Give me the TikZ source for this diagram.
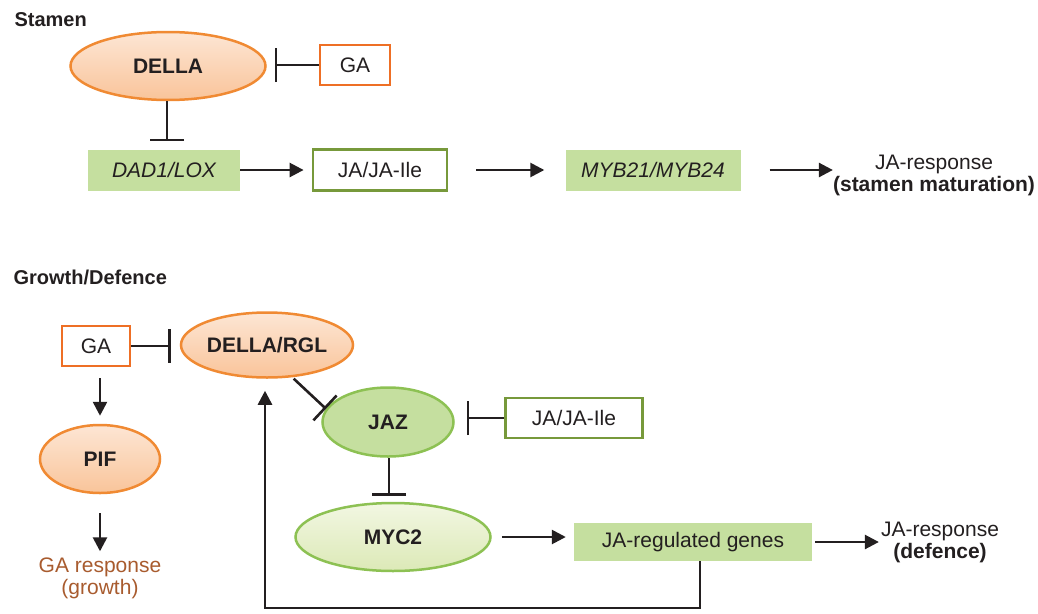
\documentclass[tikz,border=0pt]{standalone}
\usepackage{fontspec}
\setmainfont{Liberation Sans}
\usetikzlibrary{shapes.geometric,arrows.meta,shadings}
\definecolor{orangeline}{HTML}{F08A33}
\definecolor{orangebox}{HTML}{EE6F25}
\definecolor{peachtop}{HTML}{FDE6D4}
\definecolor{peachbot}{HTML}{F9C49A}
\definecolor{leaf}{HTML}{C5DF9F}
\definecolor{leafline}{HTML}{8DC153}
\definecolor{olive}{HTML}{77993B}
\definecolor{mintop}{HTML}{F2F7E2}
\definecolor{minbot}{HTML}{DCE9B7}
\definecolor{rust}{HTML}{A85B2E}
\definecolor{ink}{HTML}{231F20}
\begin{document}
\begin{tikzpicture}[x=1pt, y=-1pt, font=\fontsize{21}{25}\selectfont, text=ink,
	oval/.style={ellipse, line width=2.5pt, inner sep=0pt, font=\fontsize{21}{25}\selectfont\bfseries},
	della/.style={oval, draw=orangeline, top color=peachtop, bottom color=peachbot},
	box/.style={rectangle, inner sep=0pt},
	gabox/.style={box, draw=orangebox, line width=2.8pt, fill=white},
	jabox/.style={box, draw=olive, line width=2.8pt, fill=white},
	gene/.style={box, fill=leaf, font=\fontsize{21}{25}\selectfont\itshape},
	act/.style={draw=ink, line width=2.6pt, -{Triangle[length=14pt,width=14pt]}},
	inh/.style={draw=ink, line width=2.6pt, -{Bar[width=34pt]}}]
		\useasboundingbox (0,0) rectangle (1038,613);
		% Stamen
		\node[anchor=base west, font=\fontsize{20}{24}\selectfont\bfseries] (stamen) at (11,26) {Stamen};
		\node[della, minimum width=195pt, minimum height=68pt] (DELLA) at (168,66) {DELLA};
		\node[gabox, minimum width=70pt, minimum height=40pt] (GA1) at (355,65) {GA};
		\node[gene, minimum width=152pt, minimum height=41pt] (DAD) at (164,170) {DAD1/LOX};
		\node[jabox, minimum width=134pt, minimum height=41pt] (JA1) at (380,170) {JA/JA-Ile};
		\node[gene, minimum width=175pt, minimum height=41pt] (MYB) at (653,170) {MYB21/MYB24};
		\node[align=center, inner sep=0pt] (resp1) at (934,175) {JA-response\\[-3pt]\textbf{(stamen maturation)}};
		% Growth/Defence
		\node[anchor=base west, font=\fontsize{20}{24}\selectfont\bfseries] (growth) at (10,284) {Growth/Defence};
		\node[gabox, minimum width=68pt, minimum height=40pt] (GA2) at (96,346) {GA};
		\node[della, minimum width=172pt, minimum height=65pt] (DR) at (267,345) {DELLA/RGL};
		\node[della, minimum width=120pt, minimum height=68pt] (PIF) at (100,459) {PIF};
		\node[align=center, inner sep=0pt, text=rust] (garesp) at (100,578) {GA response\\[-3pt](growth)};
		\node[oval, draw=leafline, fill=leaf, minimum width=131pt, minimum height=69pt] (JAZ) at (388,422) {JAZ};
		\node[jabox, minimum width=137pt, minimum height=40pt] (JA2) at (574,418) {JA/JA-Ile};
		\node[oval, draw=leafline, top color=mintop, bottom color=minbot, minimum width=195pt, minimum height=68pt] (MYC) at (393,537) {MYC2};
		\node[box, fill=leaf, minimum width=238pt, minimum height=38pt] (genes) at (693,542) {JA-regulated genes};
		\node[align=center, inner sep=0pt] (resp2) at (940,542) {JA-response\\[-3pt]\textbf{(defence)}};
		\coordinate (loop) at (265,608);
		% Arrows
		\draw[inh, shorten >=8pt] (GA1) -- (GA1 -| DELLA.east);
		\draw[inh, shorten >=8pt] (DELLA.south -| 167,0) -- (DAD.north -| 167,0);
		\draw[act, shorten >=8pt] (DAD) -- (JA1);
		\draw[act, shorten <=28pt, shorten >=21pt] (JA1) -- (MYB);
		\draw[act, shorten <=29pt] (MYB.east) -- (MYB.east -| resp1.west);
		\draw[inh, shorten >=9pt] (GA2.east) -- (GA2.east -| DR.west);
		\draw[act, shorten <=11pt, shorten >=8pt] (PIF.north |- GA2.south) -- (PIF.north);
		\draw[act, shorten <=19pt, shorten >=6pt] (PIF.south) -- (garesp.north);
		\draw[inh, shorten <=2pt] (DR.-52) -- (JAZ.168);
		\draw[inh, shorten >=12pt] (JA2.west) -- (JA2.west -| JAZ.east);
		\draw[inh, shorten >=6pt] (JAZ.south -| 389,0) -- (MYC.north -| 389,0);
		\draw[act, shorten <=10pt, shorten >=8pt] (MYC.east) -- (MYC.east -| genes.west);
		\draw[act, shorten <=3pt, shorten >=2pt] (genes.east) -- (genes.east -| resp2.west);
		\draw[act, shorten >=12pt] ([xshift=7pt]genes.south) |- (loop) -- (loop |- DR.south);
	\end{tikzpicture}
\end{document}
